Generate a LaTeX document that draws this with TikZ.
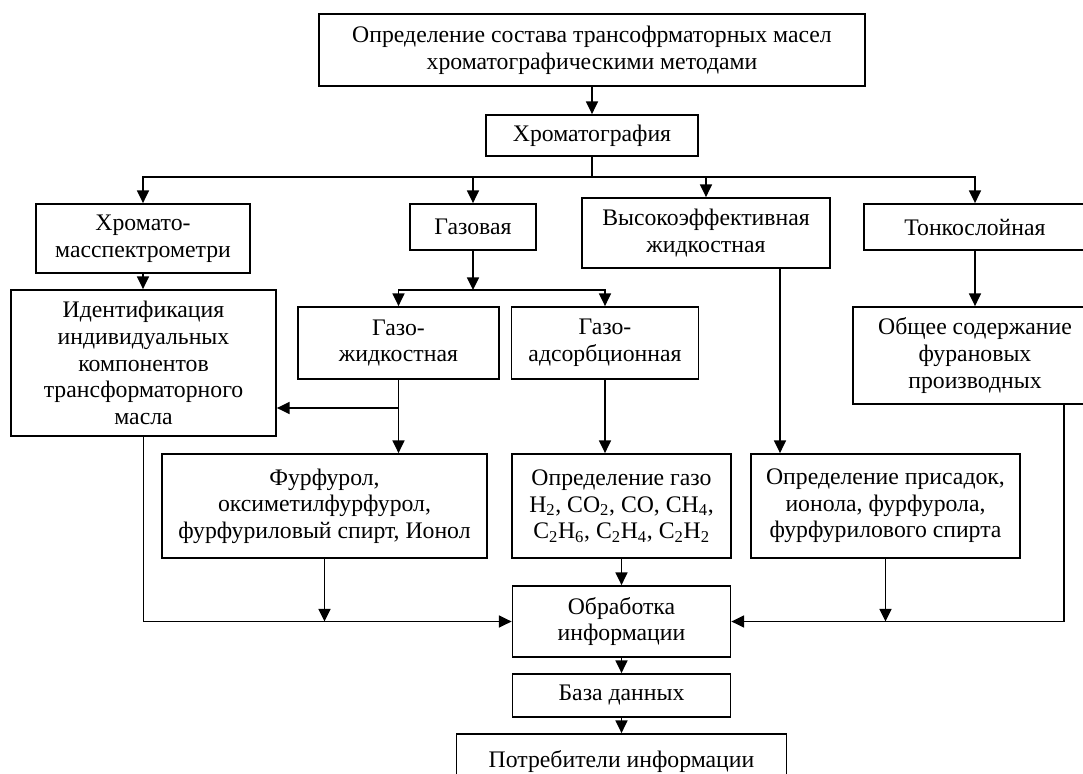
\documentclass[tikz,border=0pt]{standalone}
\usepackage{fontspec}
\setmainfont{Liberation Serif}
\usetikzlibrary{arrows.meta}
\tikzset{
  box/.style={draw, line width=1.35pt, align=center, inner sep=0pt, anchor=center,
    font=\fontsize{17.8}{20}\selectfont},
  sz/.style 2 args={minimum width=#1*0.75pt, minimum height=#2*0.75pt},
  conn/.style={line width=1.3pt},
  arr/.style={conn, -{Triangle[length=9.5pt,width=9pt]}}
}
\begin{document}
\begin{tikzpicture}[x=0.75pt,y=-0.75pt]
\clip (0,0) rectangle (1083,774);
\fill[white] (0,0) rectangle (1083,774);
% boxes
\node[box, sz={546}{72}] (top) at (592,50) {Определение состава трансофрматорных масел\\хроматографическими методами};
\node[box, sz={212.6}{41}] (chrom) at (592,135.5) {Хроматография};
\node[box, sz={214}{69}] (hms) at (143,238.5) {Хромато-\\масспектрометри};
\node[box, sz={126}{46}] (gas) at (473,227) {Газовая};
\node[box, sz={248}{70}] (hplc) at (706,233) {Высокоэффективная\\жидкостная};
\node[box, sz={222}{46}] (tlc) at (975,227) {Тонкослойная};
\node[box, sz={265}{146}] (ident) at (143.5,363) {Идентификация\\индивидуальных\\компонентов\\трансформаторного\\масла};
\node[box, sz={201}{72}] (gl) at (398.5,343) {Газо-\\жидкостная};
\node[box, sz={187}{72}] (ga) at (605,343) {Газо-\\адсорбционная};
\node[box, sz={244}{97}] (furan) at (975,355.5) {Общее содержание\\фурановых\\производных};
\node[box, sz={325}{104}] (furf) at (324.5,506) {Фурфурол,\\оксиметилфурфурол,\\фурфуриловый спирт, Ионол};
\node[box, sz={219}{104}] (gases) at (621.5,506) {Определение газо\\H\textsubscript{2}, CO\textsubscript{2}, CO, CH\textsubscript{4},\\C\textsubscript{2}H\textsubscript{6}, C\textsubscript{2}H\textsubscript{4}, C\textsubscript{2}H\textsubscript{2}};
\node[box, sz={269}{104}] (add) at (885.5,506) {Определение присадок,\\ионола, фурфурола,\\фурфурилового спирта};
\node[box, sz={218}{71}] (proc) at (621.5,621.5) {Обработка\\информации};
\node[box, sz={218}{43}] (db) at (621.5,695.5) {База данных};
\node[box, sz={330}{56}] (cons) at (621.5,762) {Потребители информации};
% coordinates
\coordinate (bus) at (592,177);
\coordinate (gbus) at (473,290);
\coordinate (glb) at (398.5,408);
\coordinate (hx) at (780,0);
\coordinate (rx) at (1064,621.5);
\coordinate (lx) at (143.5,621.5);
% connectors
\draw[arr] (top.south) -- (chrom.north);
\draw[conn] (chrom.south) -- (bus);
\draw[arr] (bus) -| (hms.north);
\draw[arr] (bus) -| (gas.north);
\draw[arr] (bus) -| (hplc.north);
\draw[arr] (bus) -| (tlc.north);
\draw[arr] (hms.south) -- (ident.north -| hms.south);
\draw[arr] (gas.south) -- (gbus);
\draw[arr] (gbus) -| (gl.north);
\draw[arr] (gbus) -| (ga.north);
\draw[arr] (gl.south) -- (furf.north -| gl.south);
\draw[arr] (glb) -- (glb -| ident.east);
\draw[arr] (ga.south) -- (gases.north -| ga.south);
\draw[arr] (hplc.south -| hx) -- (add.north -| hx);
\draw[arr] (tlc.south) -- (furan.north);
\draw[arr] (furan.south -| rx) -- (rx) -- (proc.east);
\draw[arr] (ident.south) -- (lx) -- (proc.west);
\draw[arr] (furf.south) -- (furf.south |- proc.west);
\draw[arr] (add.south) -- (add.south |- proc.east);
\draw[arr] (gases.south) -- (proc.north);
\draw[arr] (proc.south) -- (db.north);
\draw[arr] (db.south) -- (cons.north);
\end{tikzpicture}
\end{document}
